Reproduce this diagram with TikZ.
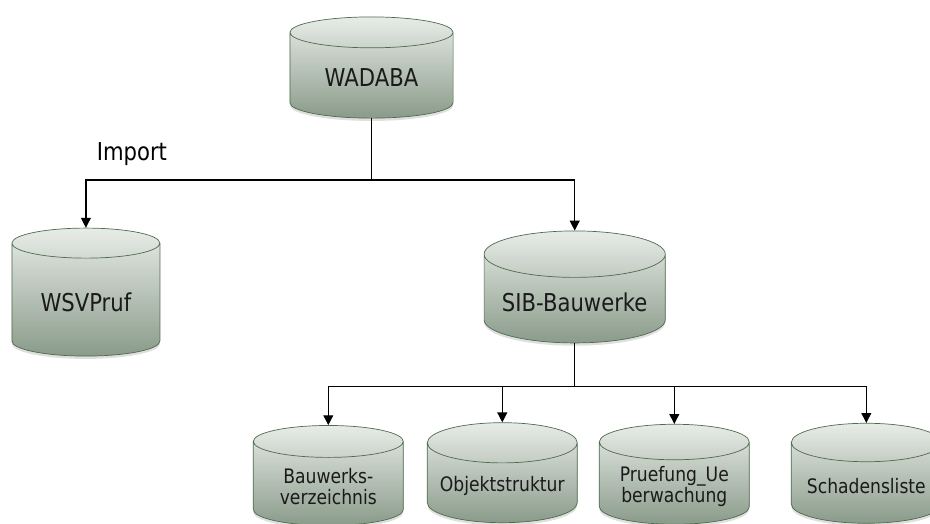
\documentclass[tikz,border=0pt]{standalone}
\usepackage{fontspec}
\setmainfont{DejaVu Sans}[FakeStretch=0.86]
\usepackage{xcolor}
\usepackage{tikz}
\usetikzlibrary{arrows.meta}
\usetikzlibrary{shapes.geometric,shadows}
\usetikzlibrary{positioning}
\definecolor{dbline}{HTML}{4E6B4E}
\definecolor{dbtop}{HTML}{E8ECE8}
\definecolor{dbbottom}{HTML}{8A9B8A}
\definecolor{dbtext}{HTML}{1A1A1A}

\begin{document}
\begin{tikzpicture}[-,>={Triangle[length=7pt,width=7pt]},on grid,line width=0.9pt]
	\tikzstyle{db}=[cylinder, shape border rotate=90, aspect=0.3, draw=dbline, line width=0.5pt,
		top color=dbtop, bottom color=dbbottom, text=dbtext, align=center,
		drop shadow={shadow xshift=0pt, shadow yshift=-2pt, opacity=0.25},
		font=\fontsize{17.5}{20}\selectfont]
	\tikzstyle{dbsmall}=[db, minimum width=3.75cm, minimum height=2.5cm,
		font=\fontsize{14.2}{15}\selectfont]
	\useasboundingbox (0,0) rectangle (23.25,-13.075);
	\clip (0,0) rectangle (23.25,-13.075);
		\node[db, minimum width=4.08cm, minimum height=2.53cm] (wadaba) at (9.2875,-1.95) {WADABA};
		\node[db, minimum width=3.7cm, minimum height=3.2cm] (wsvpruf) [below left=5.61cm and 7.14cm of wadaba] {WSVPruf};
		\node[db, minimum width=4.53cm, minimum height=2.8cm] (sib) [below right=5.61cm and 5.08cm of wadaba] {SIB-Bauwerke};
		\node[dbsmall] (bwv) [below left=4.6cm and 6.16cm of sib] {Bauwerks-\\verzeichnis};
		\node[dbsmall] (objekt) [below left=4.6cm and 1.81cm of sib] {Objektstruktur};
		\node[dbsmall] (pruefung) [below right=4.6cm and 2.49cm of sib] {Pruefung\_Ue\\berwachung};
		\node[dbsmall] (schaden) [below right=4.6cm and 7.29cm of sib] {Schadensliste};
		\coordinate[below=2.55cm of wadaba] (splitA);
		\coordinate[below=2.1cm of sib] (splitB);
		\node[font=\fontsize{17.5}{20}\selectfont] (importlbl) [above left=0.64cm and 5.99cm of splitA, anchor=center] {Import};
			\draw (wadaba.south) -- (splitA);
			\draw[->] (splitA) -| (wsvpruf.north);
			\draw[->] (splitA) -| (sib.north);
			\draw (sib.south) -- (splitB);
			\foreach \n in {bwv,objekt,pruefung,schaden}
				\draw[->] (splitB) -| (\n.north);
\end{tikzpicture}
\end{document}
